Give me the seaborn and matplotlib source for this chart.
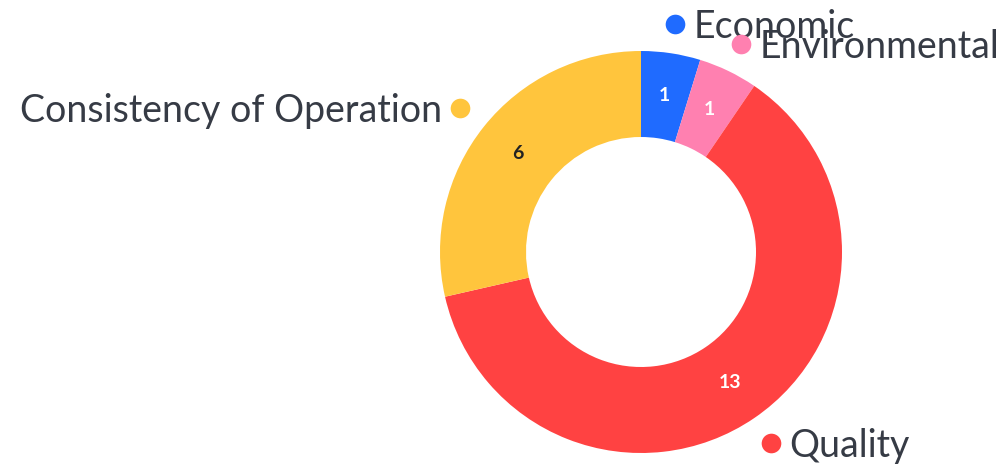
import numpy as np
import matplotlib
matplotlib.use("Agg")
import matplotlib.pyplot as plt
import seaborn as sns

# Share of items by category
categories = ["Economic", "Environmental", "Quality", "Consistency of Operation"]
counts = [1, 1, 13, 6]
colors = ["#1F6BFF", "#FF80B0", "#FF4242", "#FFC53D"]
value_colors = ["white", "white", "white", "#222222"]

sns.set_theme(style="white")
plt.rcParams["font.family"] = ["Lato", "DejaVu Sans"]

W, H = 1001, 466
fig = plt.figure(figsize=(W / 100, H / 100), dpi=100)
ax = fig.add_axes([0, 0, 1, 1])

cx, cy = 641, 214
r_out, r_in = 201, 115

wedges, _ = ax.pie(
    counts,
    colors=colors,
    startangle=90,
    counterclock=False,
    radius=r_out,
    center=(cx, cy),
    wedgeprops=dict(width=r_out - r_in, linewidth=0),
    frame=True,
)
ax.set_xlim(0, W)
ax.set_ylim(0, H)
ax.set_aspect("equal")
ax.axis("off")

r_mid = (r_out + r_in) / 2
r_lab = 231
for w, name, val, col, vcol in zip(wedges, categories, counts, colors, value_colors):
    ang = np.deg2rad((w.theta1 + w.theta2) / 2)
    # value inside the ring
    ax.text(cx + r_mid * np.cos(ang), cy + r_mid * np.sin(ang), str(val),
            ha="center", va="center", fontsize=14, fontweight="bold",
            color=vcol)
    # category marker and name outside the ring
    dx, dy = cx + r_lab * np.cos(ang), cy + r_lab * np.sin(ang)
    ax.scatter([dx], [dy], s=200, color=col, zorder=3, linewidths=0)
    if np.cos(ang) >= 0:
        ax.text(dx + 18, dy, name, ha="left", va="center_baseline",
                fontsize=27, color="#363b45")
    else:
        ax.text(dx - 18, dy, name, ha="right", va="center_baseline",
                fontsize=27, color="#363b45")

fig.savefig("out.png", dpi=100)
